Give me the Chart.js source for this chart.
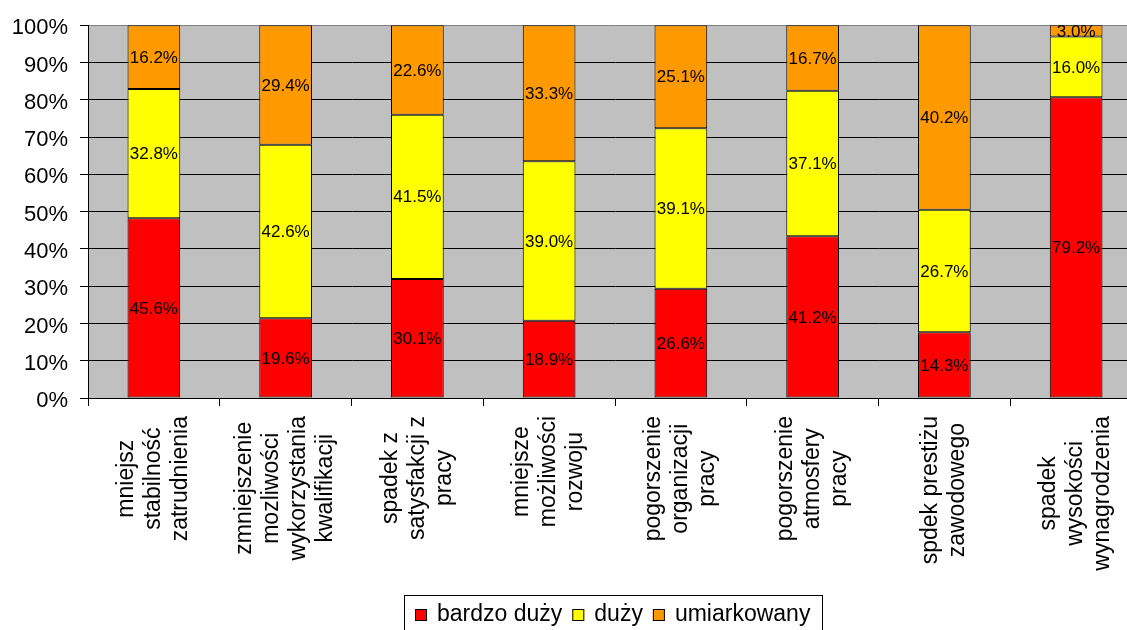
<!DOCTYPE html>
<html lang="pl">
<head>
<meta charset="utf-8">
<title>Skutki – wykres</title>
<script src="https://cdn.jsdelivr.net/npm/chart.js@4/dist/chart.umd.min.js"></script>
<style>
  html, body { margin: 0; padding: 0; background: #fff; overflow: hidden; }
  #wrap { width: 1146px; height: 630px; }
</style>
</head>
<body>
<div id="wrap"><canvas id="c" width="1146" height="630"></canvas></div>
<script>
// Category labels (one entry per line of the rotated label)
const categories = [
  ['mniejsz', 'stabilność', 'zatrudnienia'],
  ['zmniejszenie', 'mozliwości', 'wykorzystania', 'kwalifikacji'],
  ['spadek z', 'satysfakcji z', 'pracy'],
  ['mniejsze', 'możliwości', 'rozwoju'],
  ['pogorszenie', 'organizacji', 'pracy'],
  ['pogorszenie', 'atmosfery', 'pracy'],
  ['spdek prestiżu', 'zawodowego'],
  ['spadek', 'wysokości', 'wynagrodzenia']
];

// Answer shares in percent
const bardzoDuzy  = [45.6, 19.6, 30.1, 18.9, 26.6, 41.2, 14.3, 79.2];
const duzy        = [32.8, 42.6, 41.5, 39.0, 39.1, 37.1, 26.7, 16.0];
const umiarkowany = [16.2, 29.4, 22.6, 33.3, 25.1, 16.7, 40.2, 3.0];

const seriesNames = ['bardzo duży', 'duży', 'umiarkowany'];
const seriesColors = ['#FF0000', '#FFFF00', '#FF9900'];

// Y axis tick values
const yTicks = [0, 10, 20, 30, 40, 50, 60, 70, 80, 90, 100];

const FONT = "'Liberation Sans', Arial, sans-serif";
Chart.defaults.font.family = FONT;
Chart.defaults.color = '#000';

// 100% stacked: each column is scaled to the sum of its three answers
const raw = [bardzoDuzy, duzy, umiarkowany];
const totals = categories.map((_, i) => raw.reduce((s, arr) => s + arr[i], 0));
const shares = raw.map(arr => arr.map((v, i) => v / totals[i] * 100));

const datasets = raw.map((arr, k) => ({
  label: seriesNames[k],
  data: shares[k],
  rawValues: arr,
  backgroundColor: seriesColors[k],
  borderColor: '#000',
  borderWidth: 1,
  borderSkipped: false,
  barPercentage: 0.4,
  categoryPercentage: 1.0
}));

// Grey plot background
const plotBackground = {
  id: 'plotBackground',
  beforeDraw(chart) {
    const { ctx, chartArea: a } = chart;
    ctx.save();
    ctx.fillStyle = '#C0C0C0';
    ctx.fillRect(a.left, a.top, a.right - a.left, a.bottom - a.top);
    ctx.restore();
  }
};

// Value labels centred in each segment
const segmentLabels = {
  id: 'segmentLabels',
  afterDatasetsDraw(chart) {
    const { ctx } = chart;
    ctx.save();
    ctx.font = '17px ' + FONT;
    ctx.fillStyle = '#000';
    ctx.textAlign = 'center';
    ctx.textBaseline = 'middle';
    chart.data.datasets.forEach((ds, k) => {
      const meta = chart.getDatasetMeta(k);
      meta.data.forEach((bar, i) => {
        const yMid = (bar.y + bar.base) / 2;
        ctx.fillText(ds.rawValues[i].toFixed(1) + '%', bar.x, yMid + 1);
      });
    });
    ctx.restore();
  }
};

// Rotated, centred multi-line category labels
const categoryLabels = {
  id: 'categoryLabels',
  afterDraw(chart) {
    const { ctx, chartArea: a } = chart;
    const xs = chart.scales.x;
    const lineGap = 27;
    const top = a.bottom + 18;
    ctx.save();
    ctx.font = '23px ' + FONT;
    ctx.fillStyle = '#000';
    ctx.textAlign = 'center';
    ctx.textBaseline = 'middle';
    categories.forEach((lines, i) => {
      const cx = xs.getPixelForValue(i);
      const maxW = Math.max(...lines.map(l => ctx.measureText(l).width));
      const cy = top + maxW / 2;
      lines.forEach((line, j) => {
        const lx = cx + (j - (lines.length - 1) / 2) * lineGap;
        ctx.save();
        ctx.translate(lx, cy);
        ctx.rotate(-Math.PI / 2);
        ctx.fillText(line, 0, 0);
        ctx.restore();
      });
    });
    ctx.restore();
  }
};

// Boxed legend below the axis labels
const boxedLegend = {
  id: 'boxedLegend',
  afterDraw(chart) {
    const { ctx } = chart;
    const boxLeft = 404, boxTop = 595, boxRight = 822;
    const sq = 12, gap = 10;
    ctx.save();
    ctx.font = '23px ' + FONT;
    ctx.fillStyle = '#fff';
    ctx.fillRect(boxLeft, boxTop, boxRight - boxLeft, 50);
    ctx.strokeStyle = '#000';
    ctx.lineWidth = 1;
    ctx.strokeRect(boxLeft + 0.5, boxTop + 0.5, boxRight - boxLeft, 50);
    const items = chart.data.datasets.map(d => ({ text: d.label, color: d.backgroundColor }));
    const total = items.reduce((s, it) => s + sq + gap + ctx.measureText(it.text).width, 0) + gap * (items.length - 1);
    let x = Math.round(boxLeft + (boxRight - boxLeft - total) / 2);
    const baseline = 621;
    items.forEach(it => {
      ctx.fillStyle = it.color;
      ctx.fillRect(x, baseline - sq, sq, sq);
      ctx.strokeStyle = '#000';
      ctx.strokeRect(x + 0.5, baseline - sq + 0.5, sq - 1, sq - 1);
      x += sq + gap;
      ctx.fillStyle = '#000';
      ctx.textBaseline = 'alphabetic';
      ctx.textAlign = 'left';
      ctx.fillText(it.text, x, baseline);
      x += ctx.measureText(it.text).width + gap;
    });
    ctx.restore();
  }
};

new Chart(document.getElementById('c'), {
  type: 'bar',
  data: { labels: categories.map(l => l.join(' ')), datasets },
  plugins: [plotBackground, segmentLabels, categoryLabels, boxedLegend],
  options: {
    responsive: false,
    animation: false,
    layout: { padding: { top: 23, right: 4, left: 0, bottom: 0 } },
    plugins: {
      legend: { display: false },
      tooltip: { enabled: false }
    },
    scales: {
      x: {
        stacked: true,
        offset: true,
        grid: {
          offset: true,
          drawOnChartArea: false,
          drawTicks: true,
          tickLength: 8,
          tickColor: '#000'
        },
        border: { display: true, color: '#000', width: 1 },
        ticks: { display: false },
        afterFit(scale) { scale.height = 232; }
      },
      y: {
        stacked: true,
        min: 0,
        max: 100,
        afterBuildTicks(scale) { scale.ticks = yTicks.map(v => ({ value: v })); },
        ticks: {
          callback: v => v + '%',
          font: { size: 22 },
          color: '#000',
          padding: 12,
          labelOffset: 3
        },
        grid: {
          color: c => (c.tick && c.tick.value === 100 ? '#808080' : '#000'),
          tickColor: '#000',
          tickLength: 8,
          lineWidth: 1
        },
        border: { display: true, color: '#000', width: 1 },
        afterFit(scale) { scale.width = 88; }
      }
    }
  }
});
</script>
</body>
</html>
